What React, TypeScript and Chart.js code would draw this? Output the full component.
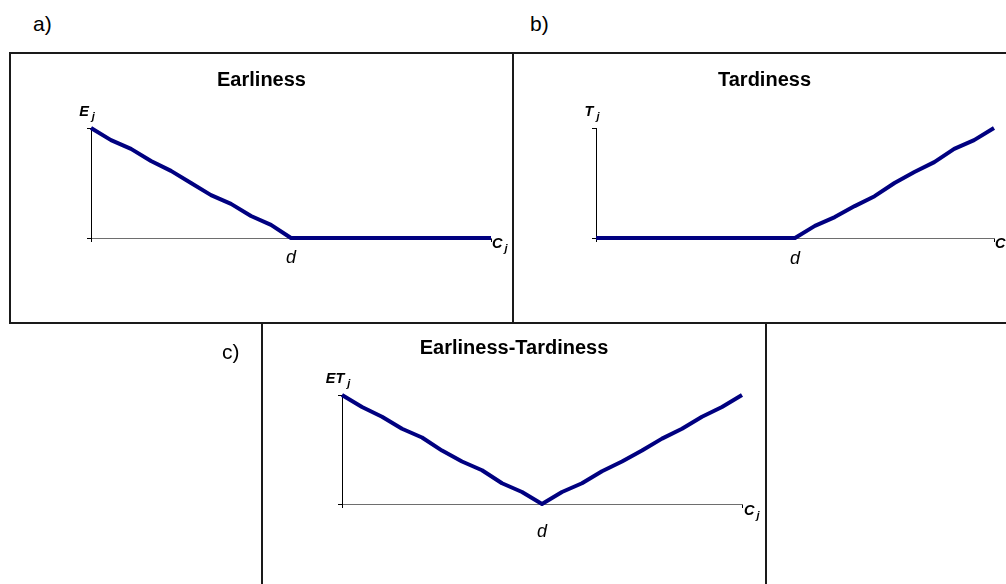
import React, { useEffect, useRef } from "react";
import { Chart, registerables } from "chart.js";

Chart.register(...registerables);

const FONT = '"Liberation Sans", Arial, Helvetica, sans-serif';
const NAVY = "#000080";

// Completion time C_j on a 0..20 grid; due date d sits at 10
const completionTimes = [0, 1, 2, 3, 4, 5, 6, 7, 8, 9, 10, 11, 12, 13, 14, 15, 16, 17, 18, 19, 20];
const dueDate = 10;

// Penalty curves
const earlinessValues = [10, 8.9, 8.1, 7.0, 6.1, 5.0, 3.9, 3.1, 2.0, 1.2, 0, 0, 0, 0, 0, 0, 0, 0, 0, 0, 0];
const tardinessValues = [0, 0, 0, 0, 0, 0, 0, 0, 0, 0, 0, 1.1, 1.9, 2.9, 3.8, 5.0, 6.0, 6.9, 8.1, 8.9, 10];
const earlinessTardinessValues = [10, 8.9, 8.0, 6.9, 6.1, 4.9, 3.9, 3.1, 1.9, 1.1, 0, 1.1, 1.9, 3.0, 3.9, 4.9, 6.0, 6.9, 8.0, 8.9, 10];

// Axis ranges and tick positions
const xRange = [0, 20];
const yRange = [0, 10];

// Text
const panelLetters = ["a)", "b)", "c)"];
const panelTitles = ["Earliness", "Tardiness", "Earliness-Tardiness"];
const yAxisNames = ["E", "T", "ET"];
const xAxisName = "C";
const subscript = "j";
const dueDateLabel = "d";

type Box = { left: number; top: number; width: number; height: number };
type Area = { left: number; right: number; top: number; bottom: number };
type PanelSpec = {
  letter: string;
  title: string;
  yName: string;
  values: number[];
  box: Box;
  canvasHeight: number;
  area: Area;
  titleBaseline: number;
  letterLeft: number;
  letterTop: number;
  xNameDx: number;
  xNameDy: number;
  dDy: number;
};

const seriesByPanel = [earlinessValues, tardinessValues, earlinessTardinessValues];

// Layout of the three framed panels
const layouts = [
  { box: { left: 9, top: 52, width: 505, height: 272 }, canvasHeight: 272, area: { left: 82, right: 482, top: 76, bottom: 186 }, titleBaseline: 34, letterLeft: 33, letterTop: 13, xNameDx: 1, xNameDy: 10, dDy: 25 },
  { box: { left: 512, top: 52, width: 505, height: 272 }, canvasHeight: 272, area: { left: 84, right: 482, top: 76, bottom: 186 }, titleBaseline: 34, letterLeft: 530, letterTop: 13, xNameDx: 1, xNameDy: 10, dDy: 26 },
  { box: { left: 261, top: 322, width: 506, height: 300 }, canvasHeight: 262, area: { left: 81, right: 481, top: 73, bottom: 182 }, titleBaseline: 31.5, letterLeft: 222, letterTop: 341, xNameDx: 2, xNameDy: 11, dDy: 33 },
];

const panels: PanelSpec[] = layouts.map((l, i) => ({
  ...l,
  letter: panelLetters[i],
  title: panelTitles[i],
  yName: yAxisNames[i],
  values: seriesByPanel[i],
}));

const TICK_LEN = 4;

// Draws the panel title, axis names with subscripts and the due-date marker
const axisTextPlugin = {
  id: "axisText",
  afterDraw(chart: any, _args: any, o: any) {
    const { ctx, chartArea: ca, scales } = chart;
    ctx.save();
    ctx.fillStyle = "#000";
    ctx.textBaseline = "alphabetic";

    ctx.font = `bold 20px ${FONT}`;
    ctx.textAlign = "center";
    ctx.fillText(o.title, chart.width / 2, o.titleBaseline);

    const mainFont = `italic bold 14.5px ${FONT}`;
    const subFont = `italic bold 11px ${FONT}`;
    ctx.textAlign = "left";

    ctx.font = mainFont;
    const wMain = ctx.measureText(o.yName).width;
    ctx.font = subFont;
    const wSub = ctx.measureText(subscript).width;
    const gap = 3;
    const yx = ca.left - 4 - (wMain + gap + wSub) / 2;
    const yb = ca.top - 12;
    ctx.font = mainFont;
    ctx.fillText(o.yName, yx, yb);
    ctx.font = subFont;
    ctx.fillText(subscript, yx + wMain + gap, yb + 3.5);

    const xx = ca.right + o.xNameDx;
    const xb = ca.bottom + o.xNameDy;
    ctx.font = mainFont;
    ctx.fillText(xAxisName, xx, xb);
    const wC = ctx.measureText(xAxisName).width;
    ctx.font = subFont;
    ctx.fillText(subscript, xx + wC + 2, xb + 4);

    ctx.font = `italic 18px ${FONT}`;
    ctx.textAlign = "center";
    ctx.fillText(dueDateLabel, scales.x.getPixelForValue(dueDate), ca.bottom + o.dDy);
    ctx.restore();
  },
};

function PenaltyChart({ spec }: { spec: PanelSpec }) {
  const ref = useRef<HTMLCanvasElement>(null);

  useEffect(() => {
    const canvas = ref.current;
    if (!canvas) return;
    const width = spec.box.width;
    const height = spec.canvasHeight;
    const axisGrid = {
      drawOnChartArea: false,
      drawTicks: true,
      tickLength: TICK_LEN,
      color: "#000",
      lineWidth: 1,
    };
    const chart = new Chart(canvas, {
      type: "line",
      data: {
        datasets: [
          {
            data: completionTimes.map((t, i) => ({ x: t, y: spec.values[i] })),
            borderColor: NAVY,
            borderWidth: 4,
            borderJoinStyle: "round",
            pointRadius: 0,
            tension: 0,
            fill: false,
            clip: false,
          },
        ],
      },
      options: {
        responsive: false,
        maintainAspectRatio: false,
        animation: false,
        devicePixelRatio: 1,
        events: [],
        layout: {
          padding: {
            left: spec.area.left - TICK_LEN,
            right: width - spec.area.right,
            top: spec.area.top,
            bottom: height - spec.area.bottom - TICK_LEN,
          },
        },
        plugins: {
          legend: { display: false },
          tooltip: { enabled: false },
          title: { display: false },
          axisText: {
            title: spec.title,
            yName: spec.yName,
            titleBaseline: spec.titleBaseline,
            xNameDx: spec.xNameDx,
            xNameDy: spec.xNameDy,
            dDy: spec.dDy,
          },
        } as any,
        scales: {
          x: {
            type: "linear",
            min: xRange[0],
            max: xRange[1],
            ticks: { display: false, stepSize: xRange[1] - xRange[0] },
            grid: axisGrid,
            border: { display: true, color: "#6e6e6e", width: 1 },
          },
          y: {
            type: "linear",
            min: yRange[0],
            max: yRange[1],
            ticks: { display: false, stepSize: yRange[1] - yRange[0] },
            grid: axisGrid,
            border: { display: true, color: "#000", width: 1 },
          },
        },
      },
      plugins: [axisTextPlugin],
    } as any);
    return () => chart.destroy();
  }, [spec]);

  return (
    <canvas
      ref={ref}
      width={spec.box.width}
      height={spec.canvasHeight}
      style={{
        position: "absolute",
        left: spec.box.left,
        top: spec.box.top,
        width: spec.box.width,
        height: spec.canvasHeight,
      }}
    />
  );
}

export default function App() {
  return (
    <div
      style={{
        position: "absolute",
        left: 0,
        top: 0,
        width: 1006,
        height: 584,
        overflow: "hidden",
        background: "#fff",
        fontFamily: FONT,
      }}
    >
      {panels.map((p) => (
        <React.Fragment key={p.letter}>
          <div
            style={{
              position: "absolute",
              left: p.box.left,
              top: p.box.top,
              width: p.box.width,
              height: p.box.height,
              border: "2px solid #1a1a1a",
              boxSizing: "border-box",
            }}
          />
          <div
            style={{
              position: "absolute",
              left: p.letterLeft,
              top: p.letterTop,
              fontSize: 21,
              lineHeight: "22px",
              color: "#000",
              whiteSpace: "nowrap",
            }}
          >
            {p.letter}
          </div>
          <PenaltyChart spec={p} />
        </React.Fragment>
      ))}
    </div>
  );
}
